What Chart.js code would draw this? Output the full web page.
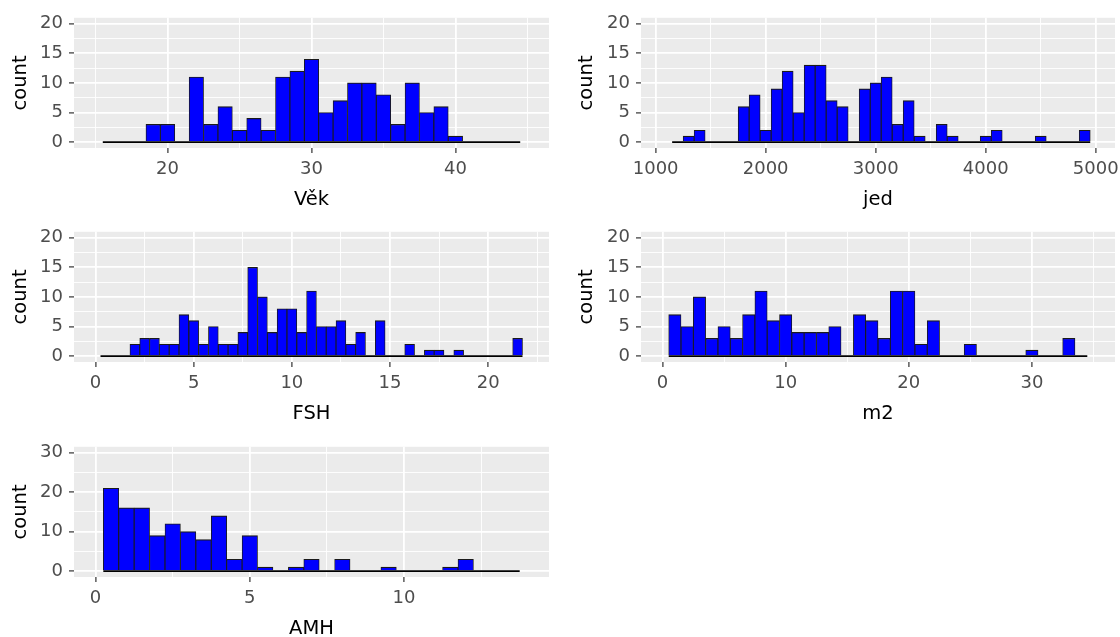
<!DOCTYPE html>
<html>
<head>
<meta charset="utf-8">
<script src="https://cdn.jsdelivr.net/npm/chart.js@4.4.1/dist/chart.umd.min.js"></script>
<style>
  html, body { margin: 0; padding: 0; background: #fff; overflow: hidden; }
  #wrap { position: relative; width: 1120px; height: 637px; overflow: hidden; }
  canvas { position: absolute; }
</style>
</head>
<body>
<div id="wrap">
  <canvas id="vek" width="561" height="211" style="left:0px;top:1px"></canvas>
  <canvas id="jed" width="567" height="211" style="left:560px;top:1px"></canvas>
  <canvas id="fsh" width="561" height="211" style="left:0px;top:215px"></canvas>
  <canvas id="m2" width="567" height="211" style="left:560px;top:215px"></canvas>
  <canvas id="amh" width="561" height="211" style="left:0px;top:430px"></canvas>
</div>
<script>
// bin centres and counts
const vekBins = [16, 17, 18, 19, 20, 21, 22, 23, 24, 25, 26, 27, 28, 29, 30,
                 31, 32, 33, 34, 35, 36, 37, 38, 39, 40, 41, 42, 43, 44];
const vekCounts = [0, 0, 0, 3, 3, 0, 11, 3, 6, 2, 4, 2, 11, 12, 14,
                   5, 7, 10, 10, 8, 3, 10, 5, 6, 1, 0, 0, 0, 0];

const jedBins = [1200, 1300, 1400, 1500, 1600, 1700, 1800, 1900, 2000, 2100,
                 2200, 2300, 2400, 2500, 2600, 2700, 2800, 2900, 3000, 3100,
                 3200, 3300, 3400, 3500, 3600, 3700, 3800, 3900, 4000, 4100,
                 4200, 4300, 4400, 4500, 4600, 4700, 4800, 4900];
const jedCounts = [0, 1, 2, 0, 0, 0, 6, 8, 2, 9,
                   12, 5, 13, 13, 7, 6, 0, 9, 10, 11,
                   3, 7, 1, 0, 3, 1, 0, 0, 1, 2,
                   0, 0, 0, 1, 0, 0, 0, 2];

const fshBins = [0.5, 1, 1.5, 2, 2.5, 3, 3.5, 4, 4.5, 5, 5.5, 6, 6.5, 7, 7.5,
                 8, 8.5, 9, 9.5, 10, 10.5, 11, 11.5, 12, 12.5, 13, 13.5, 14,
                 14.5, 15, 15.5, 16, 16.5, 17, 17.5, 18, 18.5, 19, 19.5, 20,
                 20.5, 21, 21.5];
const fshCounts = [0, 0, 0, 2, 3, 3, 2, 2, 7, 6, 2, 5, 2, 2, 4,
                   15, 10, 4, 8, 8, 4, 11, 5, 5, 6, 2, 4, 0,
                   6, 0, 0, 2, 0, 1, 1, 0, 1, 0, 0, 0,
                   0, 0, 3];

const m2Bins = [1, 2, 3, 4, 5, 6, 7, 8, 9, 10, 11, 12, 13, 14, 15, 16, 17,
                18, 19, 20, 21, 22, 23, 24, 25, 26, 27, 28, 29, 30, 31, 32, 33, 34];
const m2Counts = [7, 5, 10, 3, 5, 3, 7, 11, 6, 7, 4, 4, 4, 5, 0, 7, 6,
                  3, 11, 11, 2, 6, 0, 0, 2, 0, 0, 0, 0, 1, 0, 0, 3, 0];

const amhBins = [0.5, 1, 1.5, 2, 2.5, 3, 3.5, 4, 4.5, 5, 5.5, 6, 6.5, 7,
                 7.5, 8, 8.5, 9, 9.5, 10, 10.5, 11, 11.5, 12, 12.5, 13, 13.5];
const amhCounts = [21, 16, 16, 9, 12, 10, 8, 14, 3, 9, 1, 0, 1, 3,
                   0, 3, 0, 0, 1, 0, 0, 0, 1, 3, 0, 0, 0];

// axis breaks (major get labels, minor only grid lines)
const vekTicks = [20, 30, 40];
const vekMinor = [15, 25, 35, 45];
const jedTicks = [1000, 2000, 3000, 4000, 5000];
const jedMinor = [1500, 2500, 3500, 4500];
const fshTicks = [0, 5, 10, 15, 20];
const fshMinor = [2.5, 7.5, 12.5, 17.5, 22.5];
const m2Ticks = [0, 10, 20, 30];
const m2Minor = [5, 15, 25, 35];
const amhTicks = [0, 5, 10];
const amhMinor = [2.5, 7.5, 12.5];
const countTicks = [0, 5, 10, 15, 20];
const countMinor = [2.5, 7.5, 12.5, 17.5];
const amhCountTicks = [0, 10, 20, 30];
const amhCountMinor = [5, 15, 25];

Chart.defaults.font.family = '"DejaVu Sans", sans-serif';

const panelBg = {
    id: 'panelBg',
    beforeDraw(chart) {
        const a = chart.chartArea;
        const ctx = chart.ctx;
        ctx.save();
        ctx.fillStyle = '#EBEBEB';
        ctx.fillRect(a.left, a.top, a.right - a.left, a.bottom - a.top);
        ctx.restore();
    }
};

function hasValue(list, v) {
    return list.some(m => Math.abs(m - v) < 1e-9);
}

function axis(major, minor, range, title, extra) {
    const all = major.concat(minor).sort((a, b) => a - b);
    return Object.assign({
        type: 'linear',
        min: range[0],
        max: range[1],
        offset: false,
        border: { display: false },
        afterBuildTicks: scale => {
            scale.ticks = all.map(v => ({ value: v }));
        },
        grid: {
            offset: false,
            color: '#FFFFFF',
            lineWidth: c => hasValue(major, c.tick.value) ? 1.8 : 0.9,
            drawTicks: true,
            tickLength: 5,
            tickWidth: 1.2,
            tickColor: c => hasValue(major, c.tick.value) ? '#333333' : 'rgba(0,0,0,0)'
        },
        ticks: {
            color: '#4D4D4D',
            font: { size: 18 },
            padding: 6,
            maxRotation: 0,
            autoSkip: false,
            callback: v => hasValue(major, v) ? String(v) : ''
        },
        title: {
            display: true,
            text: title,
            color: '#000000',
            font: { size: 19.5 }
        }
    }, extra);
}

function histogram(id, bins, counts, xTitle, xRange, xMajor, xMinor,
                   yRange, yMajor, yMinor, axisWidth, titleGap) {
    const w = bins[1] - bins[0];
    const bars = bins.map((b, i) => ({ x: b, y: counts[i] }));
    const base = [
        { x: bins[0] - w / 2, y: 0 },
        { x: bins[bins.length - 1] + w / 2, y: 0 }
    ];

    const xAxis = axis(xMajor, xMinor, xRange, xTitle, {
        position: 'bottom',
        afterFit: scale => { scale.height = 64; }
    });
    xAxis.title.padding = { top: 0, bottom: 0 };

    const yAxis = axis(yMajor, yMinor, yRange, 'count', {
        position: 'left',
        afterFit: scale => { scale.width = axisWidth; }
    });
    yAxis.title.padding = { top: titleGap, bottom: 0 };

    new Chart(document.getElementById(id), {
        type: 'bar',
        data: {
            datasets: [
                {
                    type: 'line',
                    data: base,
                    borderColor: '#000000',
                    borderWidth: 1.6,
                    pointRadius: 0,
                    order: 0
                },
                {
                    data: bars,
                    backgroundColor: '#0000FF',
                    borderColor: '#1A1A1A',
                    borderWidth: { top: 1.2, left: 0.9, right: 0.9, bottom: 0 },
                    borderSkipped: 'bottom',
                    barPercentage: 1,
                    categoryPercentage: 1,
                    order: 1
                }
            ]
        },
        options: {
            responsive: false,
            devicePixelRatio: 1,
            animation: false,
            layout: { padding: { left: 0, top: 12, right: 12, bottom: 0 } },
            plugins: {
                legend: { display: false },
                tooltip: { enabled: false }
            },
            scales: { x: xAxis, y: yAxis }
        },
        plugins: [panelBg]
    });
}

histogram('vek', vekBins, vekCounts, 'Věk', [13.5, 46.5], vekTicks, vekMinor,
          [-1, 21], countTicks, countMinor, 74, 9.3);
histogram('jed', jedBins, jedCounts, 'jed', [867, 5175], jedTicks, jedMinor,
          [-1, 21], countTicks, countMinor, 81, 15.3);
histogram('fsh', fshBins, fshCounts, 'FSH', [-1.1, 23.1], fshTicks, fshMinor,
          [-1, 21], countTicks, countMinor, 74, 9.3);
histogram('m2', m2Bins, m2Counts, 'm2', [-1.75, 36.75], m2Ticks, m2Minor,
          [-1, 21], countTicks, countMinor, 81, 15.3);
histogram('amh', amhBins, amhCounts, 'AMH', [-0.7, 14.7], amhTicks, amhMinor,
          [-1.5, 31.5], amhCountTicks, amhCountMinor, 74, 9.3);
</script>
</body>
</html>
